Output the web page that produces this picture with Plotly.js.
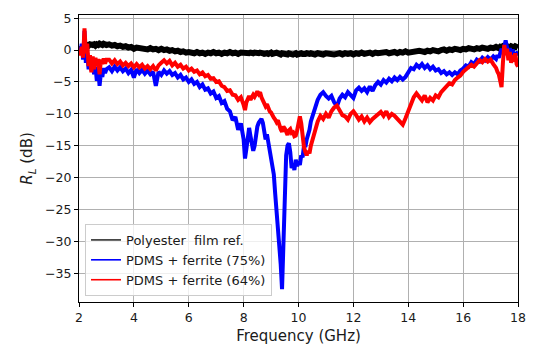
<!DOCTYPE html>
<html>
<head>
<meta charset="utf-8">
<script src="https://cdn.plot.ly/plotly-3.0.1.min.js"></script>
<style>
  html, body { margin: 0; padding: 0; background: #ffffff; }
  #chart { width: 535px; height: 347px; }
</style>
</head>
<body>
<div id="chart"></div>
<script>
// Reflection loss R_L (dB) versus frequency (GHz), shared frequency grid.
const freqGHz = [
  2.00,2.05,2.10,2.15,2.20,2.25,2.30,2.35,2.40,2.45,2.50,2.55,2.60,2.65,2.70,2.75,2.80,2.85,2.90,2.95,3.00,
  3.1,3.2,3.3,3.4,3.5,3.6,3.7,3.8,3.9,4.0,4.1,4.2,4.3,4.4,4.5,4.6,4.7,4.8,4.9,5.0,5.1,5.2,5.3,5.4,5.5,5.6,5.7,5.8,5.9,
  6.0,6.1,6.2,6.3,6.4,6.5,6.6,6.7,6.8,6.9,7.0,7.1,7.2,7.3,7.4,7.5,7.6,7.7,7.8,7.9,
  8.00,8.05,8.10,8.15,8.20,8.25,8.30,8.35,8.40,8.45,8.50,8.55,8.60,8.65,8.70,8.75,8.80,8.85,8.90,8.95,
  9.00,9.05,9.10,9.15,9.20,9.25,9.30,9.35,9.40,9.45,9.50,9.55,9.60,9.65,9.70,9.75,9.80,9.85,9.90,9.95,
  10.00,10.05,10.10,10.15,10.20,10.25,10.30,10.35,10.40,10.45,10.50,
  10.6,10.7,10.8,10.9,11.0,11.1,11.2,11.3,11.4,11.5,11.6,11.7,11.8,11.9,12.0,12.1,12.2,12.3,12.4,12.5,
  12.6,12.7,12.8,12.9,13.0,13.1,13.2,13.3,13.4,13.5,13.6,13.7,13.8,13.9,14.0,14.1,14.2,14.3,14.4,14.5,
  14.6,14.7,14.8,14.9,15.0,15.1,15.2,15.3,15.4,15.5,15.6,15.7,15.8,15.9,16.0,16.1,16.2,16.3,16.4,16.5,
  16.6,16.7,16.8,16.9,17.0,17.1,17.2,
  17.25,17.30,17.35,17.40,17.45,17.50,17.55,17.60,17.65,17.70,17.75,17.80,17.85,17.90,17.95,18.00
];

const rlPolyester = [
  0.0,0.2,0.3,0.5,0.6,0.7,0.8,0.7,0.9,0.8,0.8,0.9,0.7,0.9,0.8,1.0,0.9,0.8,1.0,0.9,0.8,
  0.9,0.7,0.8,0.6,0.7,0.5,0.6,0.4,0.5,
  0.2,0.4,0.3,0.2,0.3,0.1,0.3,0.1,0.2,0.0,
  0.2,0.0,0.1,-0.1,0.0,-0.2,-0.1,-0.3,-0.2,-0.4,
  -0.3,-0.4,-0.5,-0.3,-0.5,-0.4,-0.6,-0.4,-0.5,-0.3,
  -0.5,-0.4,-0.6,-0.4,-0.5,-0.3,-0.5,-0.4,-0.6,-0.4,
  -0.5,-0.4,-0.5,-0.6,-0.5,-0.4,-0.6,-0.5,-0.4,-0.5,
  -0.6,-0.5,-0.4,-0.6,-0.5,-0.6,-0.4,-0.5,-0.6,-0.5,
  -0.4,-0.6,-0.5,-0.6,-0.4,-0.5,-0.6,-0.7,-0.5,-0.6,
  -0.5,-0.6,-0.7,-0.5,-0.6,-0.5,-0.7,-0.6,-0.5,-0.7,
  -0.6,-0.7,-0.5,-0.6,-0.7,-0.6,-0.5,-0.7,-0.6,-0.5,
  -0.6,
  -0.7,-0.5,-0.6,-0.7,-0.5,-0.6,-0.5,-0.7,-0.6,-0.5,
  -0.7,-0.5,-0.6,-0.5,-0.7,-0.5,-0.6,-0.4,-0.6,-0.5,
  -0.4,-0.6,-0.4,-0.5,-0.4,-0.5,-0.3,-0.5,-0.4,-0.3,
  -0.5,-0.3,-0.4,-0.2,-0.4,-0.3,-0.2,-0.3,-0.1,-0.2,
  -0.3,-0.1,-0.2,0.0,-0.1,-0.2,0.0,0.1,-0.1,0.1,
  0.0,0.2,0.1,0.0,0.2,0.1,0.3,0.2,0.1,0.3,
  0.2,0.4,0.3,0.2,0.4,0.3,0.5,
  0.4,0.3,0.5,0.4,0.6,0.4,0.5,0.3,0.5,0.4,0.6,0.5,0.4,0.6,0.5,0.4
];

const rlFerrite75 = [
  0.0,-0.5,1.0,-1.5,3.0,-2.0,-0.5,-3.0,-1.5,-3.2,-2.0,-3.8,-2.6,-4.8,-3.0,-5.6,-3.5,-4.2,-2.8,-3.6,-3.0,
  -2.7,-3.3,-2.6,-3.2,-2.7,-3.3,-2.9,-3.6,-3.1,-4.3,-3.0,-3.6,-3.1,-3.7,-3.2,-3.8,-3.4,-5.6,-3.4,-3.9,
  -3.2,-3.7,-3.3,-3.9,-3.6,-4.3,-3.9,-4.6,-4.3,-5.0,-4.6,-5.3,-5.0,-5.8,-5.4,-6.2,-6.0,-6.8,-6.5,-7.5,
  -7.2,-8.3,-8.0,-9.2,-9.6,-11.0,-10.5,-12.5,-11.5,
  -14.0,-17.0,-15.5,-13.0,-12.2,-13.5,-14.5,-15.8,-15.0,-13.0,-12.0,-11.4,-11.0,-10.8,-11.4,-12.8,-14.0,-13.2,-14.5,-16.5,
  -17.5,-19.0,-19.5,-22.5,-25.0,-27.5,-31.0,-33.5,-37.5,-30.0,-22.0,-16.5,-15.0,-14.6,-16.0,-18.5,-17.8,-18.8,-17.2,-18.2,
  -17.5,-18.0,-16.5,-16.8,-15.0,-15.2,-14.0,-13.4,-12.5,-11.2,-10.5,
  -9.0,-7.8,-7.0,-6.6,-7.2,-7.6,-7.2,-8.2,-8.8,-7.6,-7.0,-7.4,-6.6,-7.1,-7.5,-6.3,-5.9,-6.4,-6.0,-6.6,
  -5.7,-6.4,-5.5,-5.0,-5.4,-4.7,-5.1,-4.5,-4.9,-4.3,-4.7,-4.2,-4.6,-4.2,-3.4,-2.8,-3.0,-2.3,-2.7,-2.2,
  -2.8,-2.4,-3.0,-2.6,-3.2,-3.0,-3.6,-3.3,-3.8,-3.5,-3.9,-3.5,-3.8,-3.2,-2.9,-2.4,-2.6,-1.9,-2.2,-1.5,
  -1.8,-1.2,-1.6,-1.1,-1.5,-1.0,-1.4,
  -0.8,-1.2,-0.5,0.2,-0.4,0.6,1.5,0.4,-0.6,0.3,-0.9,0.1,-1.1,-0.3,-0.8,-0.2
];

const rlFerrite64 = [
  0.0,-0.8,0.5,-1.2,3.4,-0.5,1.0,-2.5,-0.8,-3.5,-1.0,-3.0,-1.2,-2.5,-1.4,-3.8,-1.5,-2.2,-1.3,-2.1,-1.5,
  -1.5,-2.1,-1.6,-2.2,-1.8,-2.4,-2.0,-2.5,-2.1,-2.7,-2.2,-2.7,-2.3,-2.9,-2.5,-3.0,-2.5,-3.2,-2.4,-2.0,
  -1.6,-2.1,-1.7,-2.4,-2.0,-2.6,-2.3,-2.9,-2.6,-3.2,-2.9,-3.4,-3.2,-3.8,-3.5,-4.1,-3.9,-4.5,-4.4,-5.0,
  -4.9,-5.6,-5.8,-6.4,-6.3,-7.0,-7.1,-7.8,-7.4,
  -8.6,-9.4,-8.2,-7.6,-7.2,-7.8,-7.4,-7.0,-7.3,-6.7,-6.5,-6.9,-6.6,-7.4,-8.0,-8.3,-8.8,-8.5,-9.3,-9.6,
  -9.8,-10.4,-10.6,-10.9,-11.3,-11.0,-11.8,-12.4,-12.8,-12.0,-12.3,-12.9,-13.3,-12.6,-12.4,-13.0,-12.9,-13.5,-13.4,-12.6,
  -11.8,-10.4,-11.5,-13.5,-15.2,-16.0,-16.5,-15.8,-16.2,-15.0,-14.2,
  -12.5,-11.2,-10.3,-10.8,-10.0,-10.6,-9.6,-9.0,-8.7,-9.5,-10.2,-10.4,-10.9,-10.0,-9.6,-10.2,-10.9,-10.4,-11.2,-10.6,
  -11.3,-10.8,-10.4,-10.0,-9.7,-10.3,-9.6,-10.5,-10.0,-10.3,-10.8,-11.4,-11.7,-10.7,-9.6,-8.4,-7.4,-6.8,-7.4,-7.9,
  -7.1,-8.2,-7.5,-7.9,-7.1,-7.4,-6.6,-6.2,-5.6,-5.2,-5.4,-4.7,-4.3,-4.0,-3.4,-3.0,-2.7,-2.3,-2.6,-2.0,
  -1.6,-1.9,-1.4,-1.8,-1.5,-2.2,-2.8,
  -3.4,-3.8,-4.8,-5.8,-2.0,0.8,-0.8,0.2,-1.6,-0.3,-2.0,-0.8,-1.8,-0.5,-2.2,-2.6
];

const seriesNames = ['Polyester\u00a0 film ref.', 'PDMS + ferrite (75%)', 'PDMS + ferrite (64%)'];
const seriesColors = ['#000000', '#0000ff', '#ff0000'];
const seriesValues = [rlPolyester, rlFerrite75, rlFerrite64];
const seriesWidths = [6, 4, 4];

const font = 'DejaVu Sans, Arial, sans-serif';
const traces = [];

// Legend entries with thin sample lines
seriesNames.forEach((name, i) => {
  traces.push({
    type: 'scatter', mode: 'lines', x: [null], y: [null],
    name: name, legendgroup: 'g' + i,
    line: { color: seriesColors[i], width: i === 0 ? 1.3 : 1.6 },
    hoverinfo: 'skip'
  });
});

// Measured curves
seriesValues.forEach((vals, i) => {
  traces.push({
    type: 'scatter', mode: 'lines', x: freqGHz, y: vals,
    name: seriesNames[i], legendgroup: 'g' + i, showlegend: false,
    line: { color: seriesColors[i], width: seriesWidths[i] }
  });
});

const axisCommon = {
  showline: true, mirror: true, linecolor: '#000000', linewidth: 1,
  ticks: 'outside', ticklen: 4, tickwidth: 1, tickcolor: '#000000',
  showgrid: true, gridcolor: '#b0b0b0', gridwidth: 1, zeroline: false,
  tickfont: { family: font, size: 12.5, color: '#1a1a1a' }
};

const layout = {
  width: 535, height: 347,
  margin: { l: 79, r: 17, t: 15, b: 45 },
  paper_bgcolor: '#ffffff', plot_bgcolor: '#ffffff',
  font: { family: font, color: '#1a1a1a' },
  showlegend: true,
  xaxis: Object.assign({}, axisCommon, {
    range: [2, 18], tick0: 2, dtick: 2,
    title: { text: 'Frequency (GHz)', font: { family: font, size: 15, color: '#1a1a1a' }, standoff: 6 }
  }),
  yaxis: Object.assign({}, axisCommon, {
    range: [-39.5, 5.5], tick0: 0, dtick: 5,
    title: { text: '<i>R</i><sub><i>L</i></sub> (dB)', font: { family: font, size: 15, color: '#1a1a1a' }, standoff: 8 }
  }),
  legend: {
    x: 0.0137, y: 0.021, xanchor: 'left', yanchor: 'bottom',
    bgcolor: 'rgba(255,255,255,0.8)', bordercolor: '#cccccc', borderwidth: 1,
    font: { family: font, size: 13, color: '#1a1a1a' },
    tracegroupgap: 0
  }
};

Plotly.newPlot('chart', traces, layout, { displayModeBar: false, staticPlot: true });
</script>
</body>
</html>
